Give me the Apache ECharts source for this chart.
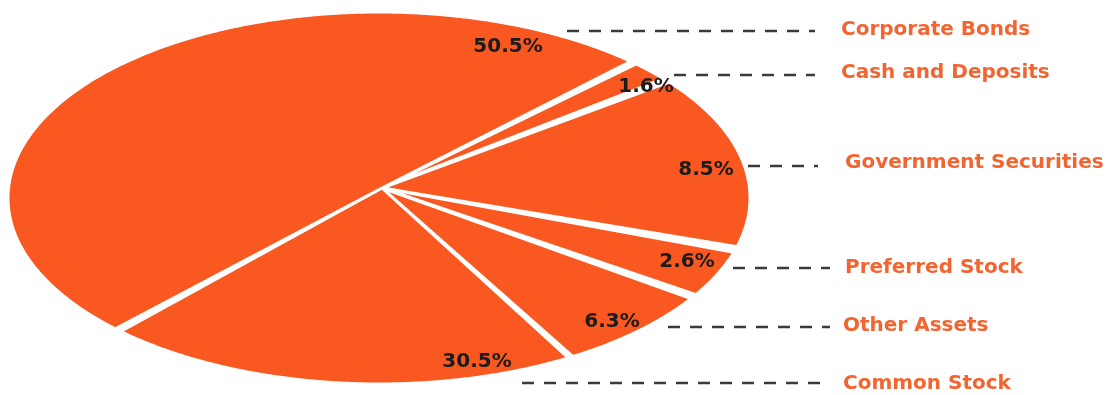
<!DOCTYPE html>
<html>
<head>
<meta charset="utf-8">
<script src="https://cdn.jsdelivr.net/npm/echarts@6/dist/echarts.min.js"></script>
<style>
html,body{margin:0;padding:0;background:#fff;}
#chart{width:1107px;height:395px;}
</style>
</head>
<body>
<div id="chart"></div>
<script>
// ---- data (clockwise order, starting just right of Corporate Bonds) ----
const categories = ['Cash and Deposits', 'Government Securities', 'Preferred Stock', 'Other Assets', 'Common Stock', 'Corporate Bonds'];
const values = [1.6, 8.5, 2.6, 6.3, 30.5, 50.5];

// ---- layout (positions for annotations, kept separate from data) ----
const ellipse = { cx: 379, cy: 198, rx: 371, ry: 186 };
const apex = { x: 382, y: 188 };
const startAngle = -26.5;       // degrees, screen coords (clockwise positive)
const padAngle = 0.95;          // degrees of angular gap between slices
const pctPos = [[646, 87], [706, 170], [687, 262], [612, 322], [477, 362], [508, 47]];
const leaderLines = [[674, 815, 75], [748, 818, 166], [733, 830, 268], [668, 830, 327], [522, 828, 383], [567, 815, 31]];
const namePos = [[841, 73], [845, 163], [845, 268], [843, 326], [843, 384], [841, 30]];

const PIE_COLOR = '#F95820';
const NAME_COLOR = '#F26530';
const FONT = '"DejaVu Sans", Lato, sans-serif';

function rimPoint(angDeg) {
  const a = angDeg * Math.PI / 180;
  const dx = Math.cos(a), dy = Math.sin(a);
  const ux = apex.x - ellipse.cx, uy = apex.y - ellipse.cy;
  const A = (dx * dx) / (ellipse.rx * ellipse.rx) + (dy * dy) / (ellipse.ry * ellipse.ry);
  const B = 2 * (ux * dx / (ellipse.rx * ellipse.rx) + uy * dy / (ellipse.ry * ellipse.ry));
  const C = (ux * ux) / (ellipse.rx * ellipse.rx) + (uy * uy) / (ellipse.ry * ellipse.ry) - 1;
  const t = (-B + Math.sqrt(B * B - 4 * A * C)) / (2 * A);
  return [apex.x + t * dx, apex.y + t * dy];
}

const total = values.reduce((s, v) => s + v, 0);
const cum = [];
values.reduce((s, v, i) => { cum[i] = s; return s + v; }, 0);

const chart = echarts.init(document.getElementById('chart'), null, { renderer: 'canvas' });

chart.setOption({
  animation: false,
  backgroundColor: '#ffffff',
  series: [{
    type: 'custom',
    coordinateSystem: 'none',
    data: values.map((v, i) => ({ name: categories[i], value: v })),
    renderItem: function (params, api) {
      const i = params.dataIndex;
      const v = api.value(0);
      const a0 = startAngle + cum[i] / total * 360 + padAngle / 2;
      const a1 = startAngle + (cum[i] + v) / total * 360 - padAngle / 2;
      const pts = [[apex.x, apex.y]];
      const steps = Math.max(4, Math.ceil((a1 - a0) / 0.5));
      for (let k = 0; k <= steps; k++) {
        pts.push(rimPoint(a0 + (a1 - a0) * k / steps));
      }
      const ll = leaderLines[i];
      return {
        type: 'group',
        children: [
          {
            type: 'polygon',
            z2: 1,
            shape: { points: pts },
            style: { fill: PIE_COLOR, stroke: '#ffffff', lineWidth: 3, lineJoin: 'round' }
          },
          {
            type: 'line',
            z2: 50,
            shape: { x1: ll[0], y1: ll[2], x2: ll[1], y2: ll[2] },
            style: { stroke: '#3a3a3a', lineWidth: 2.5, lineDash: [12, 10] }
          },
          {
            type: 'text',
            z2: 100,
            x: pctPos[i][0], y: pctPos[i][1],
            style: {
              text: v.toFixed(1) + '%',
              fill: '#1c1c1c',
              font: 'bold 20px ' + FONT,
              align: 'center', verticalAlign: 'middle'
            }
          },
          {
            type: 'text',
            z2: 100,
            x: namePos[i][0], y: namePos[i][1],
            style: {
              text: categories[i],
              fill: NAME_COLOR,
              font: 'bold 20px ' + FONT,
              align: 'left', verticalAlign: 'middle'
            }
          }
        ]
      };
    }
  }]
});
</script>
</body>
</html>
